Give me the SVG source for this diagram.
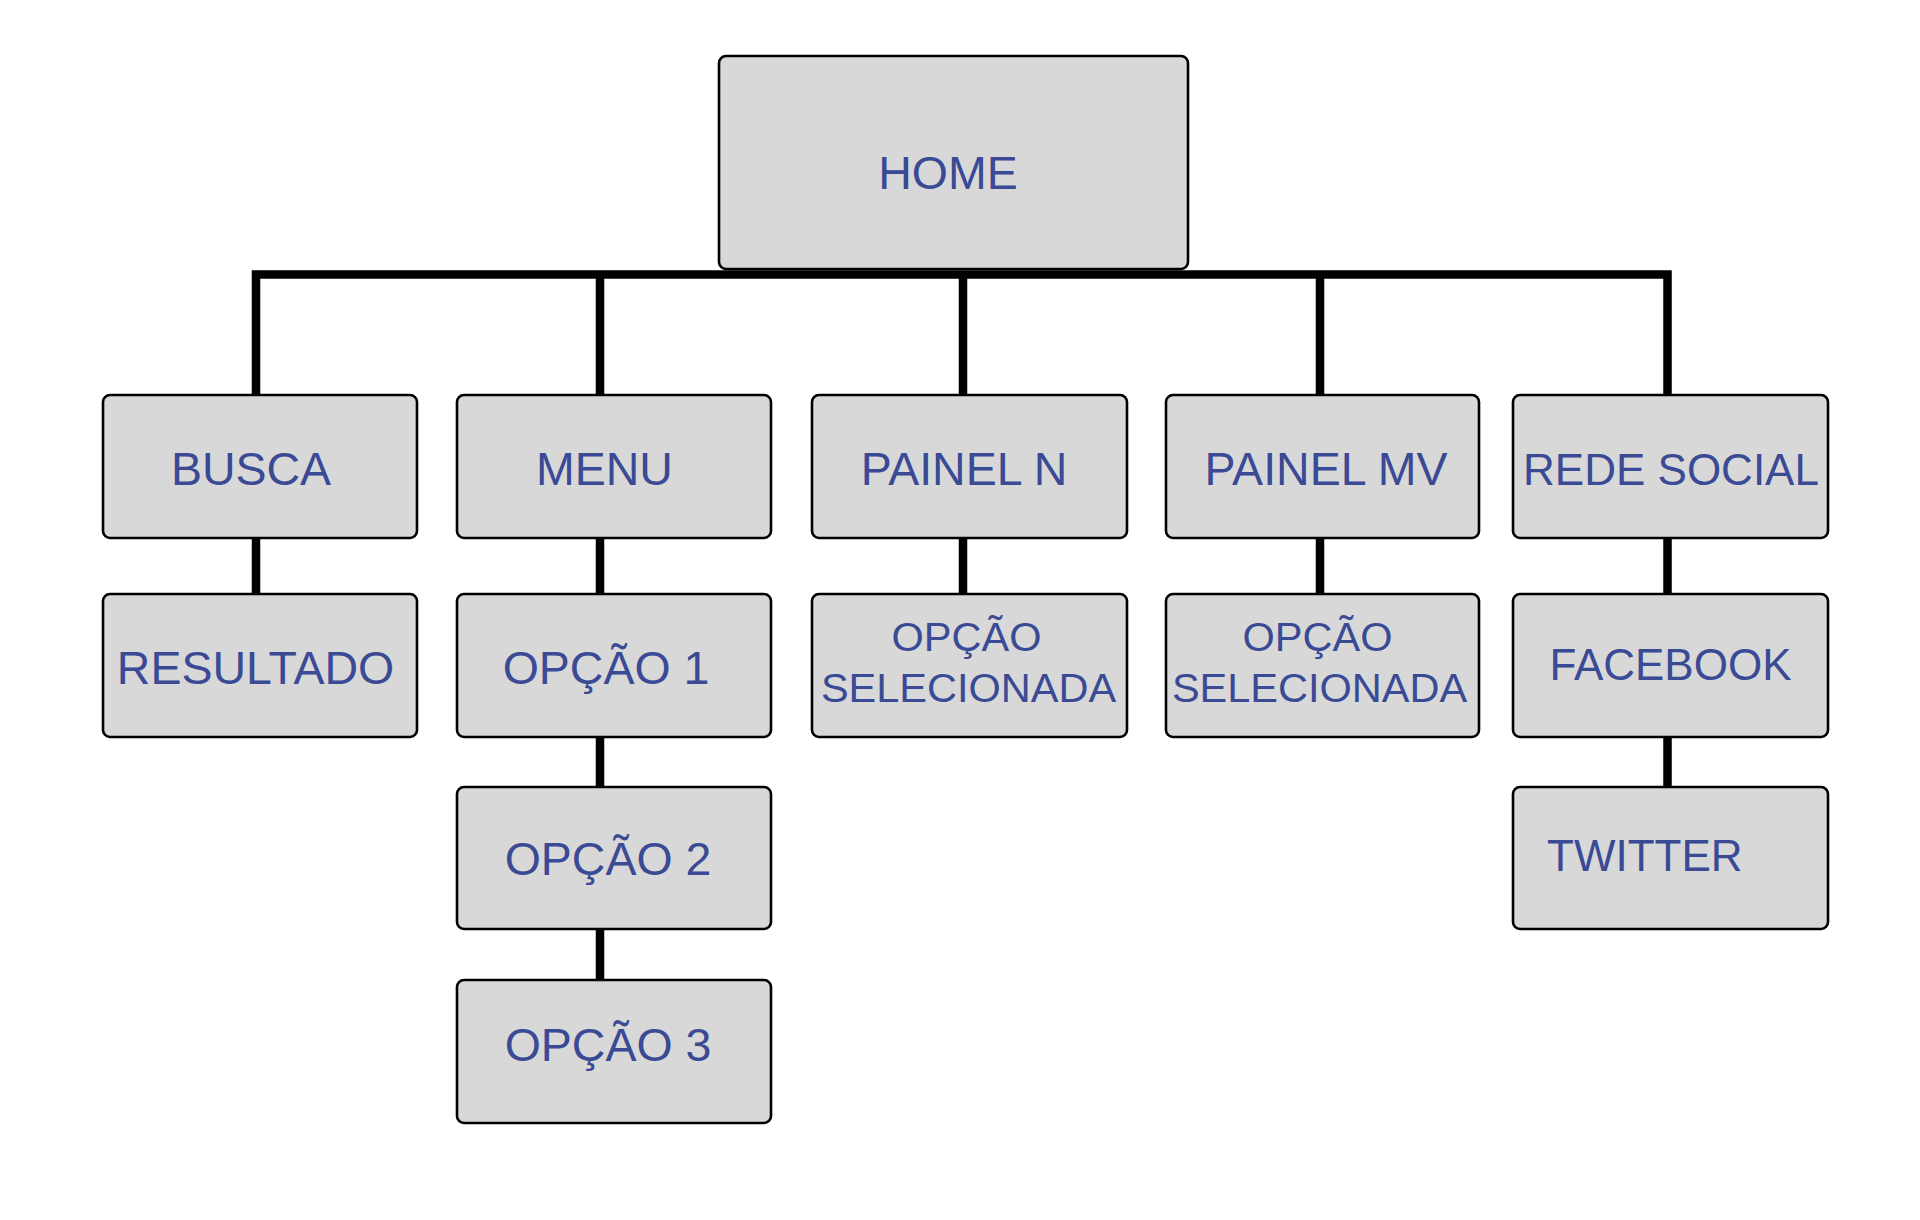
<svg xmlns="http://www.w3.org/2000/svg" width="1920" height="1220" viewBox="0 0 1920 1220">
<style>
.box{fill:#d8d8d8;stroke:#000;stroke-width:2.6}
.t{font-family:"Liberation Sans",Arial,sans-serif;fill:#3a4a94;text-anchor:middle}
.m{font-size:46.5px}
.r{font-size:44px}
.s{font-size:41.5px}
.c{fill:none;stroke:#000;stroke-width:8.5;stroke-linejoin:miter;stroke-linecap:butt}
</style>
<rect width="1920" height="1220" fill="#fff"/>
<g id="connectors">
<path class="c" d="M256,394 V274.5 H1667.5 V394"/>
<path class="c" d="M600,274.5 V394 M963,274.5 V394 M1320,274.5 V394"/>
<path class="c" d="M256,539 V593 M600,539 V593 M963,539 V593 M1320,539 V593 M1667.5,539 V593"/>
<path class="c" d="M600,738 V786 M600,930 V979 M1667.5,738 V786"/>
</g>
<g id="home"><rect class="box" x="719" y="56" width="469" height="213" rx="7"/><text class="t m" x="948" y="189">HOME</text></g>
<g id="busca"><rect class="box" x="103" y="395" width="314" height="143" rx="7"/><text class="t m" x="251" y="485">BUSCA</text></g>
<g id="menu"><rect class="box" x="457" y="395" width="314" height="143" rx="7"/><text class="t m" x="604.5" y="485">MENU</text></g>
<g id="painel-n"><rect class="box" x="812" y="395" width="315" height="143" rx="7"/><text class="t m" x="964" y="485">PAINEL N</text></g>
<g id="painel-mv"><rect class="box" x="1166" y="395" width="313" height="143" rx="7"/><text class="t m" x="1326" y="485">PAINEL MV</text></g>
<g id="rede-social"><rect class="box" x="1513" y="395" width="315" height="143" rx="7"/><text class="t r" x="1671" y="485">REDE SOCIAL</text></g>
<g id="resultado"><rect class="box" x="103" y="594" width="314" height="143" rx="7"/><text class="t m" x="255.5" y="684">RESULTADO</text></g>
<g id="opcao-1"><rect class="box" x="457" y="594" width="314" height="143" rx="7"/><text class="t m" x="606" y="684">OPÇÃO 1</text></g>
<g id="opcao-selecionada-n"><rect class="box" x="812" y="594" width="315" height="143" rx="7"/><text class="t s" x="966.5" y="651">OPÇÃO</text><text class="t s" x="968.5" y="701.5">SELECIONADA</text></g>
<g id="opcao-selecionada-mv"><rect class="box" x="1166" y="594" width="313" height="143" rx="7"/><text class="t s" x="1317.5" y="651">OPÇÃO</text><text class="t s" x="1319.5" y="701.5">SELECIONADA</text></g>
<g id="facebook"><rect class="box" x="1513" y="594" width="315" height="143" rx="7"/><text class="t r" x="1670.5" y="680">FACEBOOK</text></g>
<g id="opcao-2"><rect class="box" x="457" y="787" width="314" height="142" rx="7"/><text class="t m" x="608" y="875">OPÇÃO 2</text></g>
<g id="twitter"><rect class="box" x="1513" y="787" width="315" height="142" rx="7"/><text class="t r" x="1547" y="870.5" style="text-anchor:start">TWITTER</text></g>
<g id="opcao-3"><rect class="box" x="457" y="980" width="314" height="143" rx="7"/><text class="t m" x="608" y="1061">OPÇÃO 3</text></g>
</svg>
